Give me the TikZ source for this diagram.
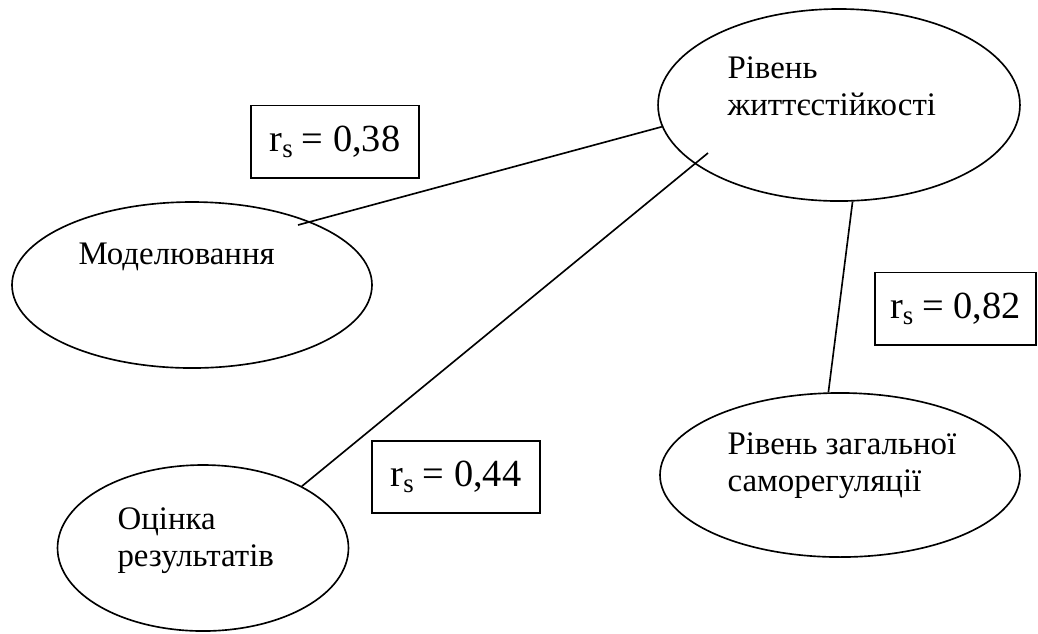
\documentclass[tikz,border=0pt]{standalone}
\usepackage{fontspec}
\setmainfont{Liberation Serif}
\usepackage{tikz}
\usetikzlibrary{shapes.geometric, positioning}
\tikzset{
  factor/.style={ellipse, draw=black, line width=0.6pt, inner sep=0pt},
  factext/.style={anchor=base west, align=left, inner sep=0pt,
    font=\fontsize{12}{13.5}\selectfont},
  corrbox/.style={rectangle, draw=black, line width=0.6pt,
    minimum height=26.4pt, minimum width=61.3pt,
    font=\fontsize{14}{16}\selectfont},
  link/.style={line width=0.6pt, color=black}
}
\newcommand{\rsval}[1]{r\textsubscript{s}\hspace{2.8pt}=\hspace{3.5pt}#1}

\begin{document}
\begin{tikzpicture}[x=0.365pt, y=-0.365pt]
  \useasboundingbox (0,0) rectangle (1038,633);

  % Ellipses
  \node[factor, minimum width=132.1pt, minimum height=70.1pt] (zhyt) at (839,105) {};
  \node[factor, minimum width=131.4pt, minimum height=60.6pt] (model) at (192,285) {};
  \node[factor, minimum width=106.2pt, minimum height=60.6pt] (ocin) at (203,548) {};
  \node[factor, minimum width=131.4pt, minimum height=59.9pt] (samo) at (840,475) {};

  % Texts in the ellipses (base = last line)
  \node[factext] (zhyttxt) at (727,115) {Рівень\\життєстійкості};
  \node[factext] (modeltxt) at (78,264) {Моделювання};
  \node[factext] (ocintxt) at (117,566) {Оцінка\\результатів};
  \node[factext] (samotxt) at (727,491) {Рівень загальної\\саморегуляції};

  % Correlation boxes
  \node[corrbox] (r38) at (335,141.5) {\rsval{0,38}};
  \node[corrbox, minimum width=58.8pt] (r82) at (955.5,308.5) {\rsval{0,82}};
  \node[corrbox] (r44) at (456,477) {\rsval{0,44}};

  % Links
  \coordinate (modin) at (298,225);
  \coordinate (zhytin) at (708,153);
  \draw[link] (modin) -- (zhyt.187);
  \draw[link] (ocin.32) -- (zhytin);
  \draw[link] (zhyt.278) -- (samo.98);
\end{tikzpicture}
\end{document}
